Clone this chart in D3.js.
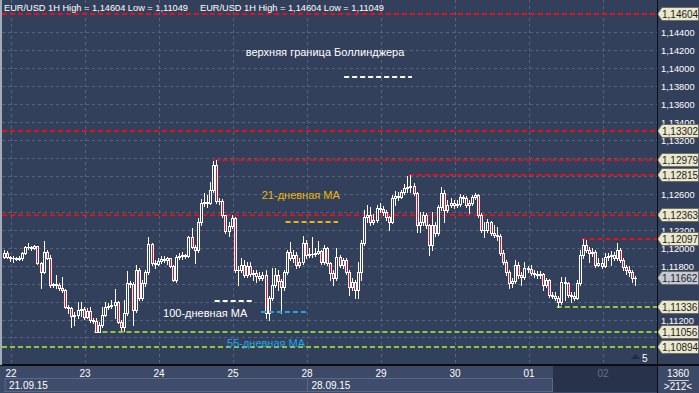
<!DOCTYPE html>
<html>
<head>
<meta charset="utf-8">
<script src="https://d3js.org/d3.v7.min.js"></script>
<style>
  body { margin: 0; background: #33405c; }
  svg { display: block; }
  text { font-family: "Liberation Sans", Arial, sans-serif; }
</style>
</head>
<body>
<script>
// EUR/USD hourly candles, 21.09.15 21:00 .. 02.10.15 10:00
// an hourly bar opens where the previous one closed
var firstOpen = 1.11900;

var close = [
  1.11944, 1.11900, 1.11889, 1.11889, 1.11877, 1.11889, 1.11944, 1.12011, 1.12011, 1.12000,
  1.12022, 1.11833, 1.11733, 1.11955, 1.11889, 1.11588, 1.11599, 1.11588, 1.11554, 1.11532,
  1.11343, 1.11332, 1.11242, 1.11254, 1.11309, 1.11320, 1.11231, 1.11298, 1.11198, 1.11187,
  1.11064, 1.11142, 1.11254, 1.11343, 1.11354, 1.11365, 1.11398, 1.11176, 1.11120, 1.11276,
  1.11610, 1.11599, 1.11309, 1.11755, 1.11443, 1.11610, 1.11733, 1.12045, 1.11833, 1.11822,
  1.11855, 1.11877, 1.11866, 1.11889, 1.11799, 1.11644, 1.11900, 1.11911, 1.11922, 1.11911,
  1.12123, 1.12011, 1.11978, 1.12290, 1.12501, 1.12512, 1.12501, 1.12646, 1.12925, 1.12524,
  1.12524, 1.12368, 1.12189, 1.12245, 1.12334, 1.11755, 1.11755, 1.11811, 1.11699, 1.11799,
  1.11710, 1.11722, 1.11688, 1.11666, 1.11699, 1.11276, 1.11443, 1.11588, 1.11699, 1.11632,
  1.11566, 1.11733, 1.11955, 1.11889, 1.11922, 1.11811, 1.11844, 1.12056, 1.11922, 1.11933,
  1.11933, 1.11944, 1.11967, 1.11844, 1.12000, 1.11833, 1.11722, 1.11666, 1.11900, 1.11811,
  1.11866, 1.11733, 1.11566, 1.11621, 1.11532, 1.11733, 1.12056, 1.12345, 1.12368, 1.12290,
  1.12312, 1.12446, 1.12434, 1.12401, 1.12345, 1.12290, 1.12557, 1.12579, 1.12568, 1.12624,
  1.12668, 1.12680, 1.12691, 1.12613, 1.12256, 1.12290, 1.12368, 1.12256, 1.12033, 1.12256,
  1.12167, 1.12457, 1.12613, 1.12423, 1.12479, 1.12501, 1.12479, 1.12490, 1.12568, 1.12557,
  1.12479, 1.12501, 1.12568, 1.12590, 1.12368, 1.12201, 1.12201, 1.12290, 1.12167, 1.12145,
  1.12134, 1.11944, 1.11844, 1.11733, 1.11610, 1.11632, 1.11811, 1.11699, 1.11677, 1.11777,
  1.11766, 1.11722, 1.11710, 1.11699, 1.11710, 1.11588, 1.11644, 1.11476, 1.11465, 1.11443,
  1.11398, 1.11621, 1.11610, 1.11476, 1.11465, 1.11443, 1.11610, 1.11922, 1.12033, 1.11978,
  1.11944, 1.11955, 1.11811, 1.11833, 1.11799, 1.11900, 1.11911, 1.11922, 1.11889, 1.11978,
  1.11866, 1.11788, 1.11755, 1.11733, 1.11666, 1.11662
];

var high = [
  1.11978, 1.11967, 1.11911, 1.11911, 1.11900, 1.11911, 1.11955, 1.12022, 1.12056, 1.12022,
  1.12033, 1.12022, 1.11844, 1.12078, 1.11978, 1.11922, 1.11610, 1.11699, 1.11610, 1.11677,
  1.11543, 1.11365, 1.11343, 1.11287, 1.11398, 1.11398, 1.11343, 1.11332, 1.11343, 1.11220,
  1.11220, 1.11176, 1.11343, 1.11398, 1.11387, 1.11421, 1.11543, 1.11410, 1.11198, 1.11421,
  1.11744, 1.11632, 1.11621, 1.11811, 1.11777, 1.11644, 1.11755, 1.12123, 1.12056, 1.11866,
  1.11889, 1.11911, 1.11911, 1.11900, 1.11889, 1.11811, 1.11922, 1.11944, 1.11955, 1.11933,
  1.12134, 1.12223, 1.12033, 1.12334, 1.12546, 1.12613, 1.12590, 1.12735, 1.12969, 1.12979,
  1.12557, 1.12546, 1.12368, 1.12290, 1.12368, 1.12345, 1.11799, 1.11889, 1.11866, 1.11844,
  1.11844, 1.11755, 1.11755, 1.11733, 1.11733, 1.11755, 1.11465, 1.11777, 1.11777, 1.11755,
  1.11655, 1.11755, 1.11978, 1.12067, 1.11978, 1.11955, 1.11889, 1.12134, 1.12089, 1.12000,
  1.12123, 1.12000, 1.12078, 1.11978, 1.12033, 1.12011, 1.11844, 1.11755, 1.12000, 1.11922,
  1.11889, 1.11889, 1.11755, 1.11666, 1.11644, 1.11844, 1.12089, 1.12423, 1.12479, 1.12457,
  1.12379, 1.12479, 1.12501, 1.12468, 1.12423, 1.12356, 1.12590, 1.12635, 1.12624, 1.12646,
  1.12713, 1.12802, 1.12815, 1.12724, 1.12624, 1.12401, 1.12401, 1.12390, 1.12267, 1.12401,
  1.12290, 1.12479, 1.12680, 1.12646, 1.12535, 1.12557, 1.12535, 1.12535, 1.12602, 1.12590,
  1.12579, 1.12535, 1.12590, 1.12613, 1.12602, 1.12390, 1.12290, 1.12323, 1.12301, 1.12256,
  1.12234, 1.12156, 1.11978, 1.11866, 1.11755, 1.11666, 1.11866, 1.11844, 1.11733, 1.11844,
  1.11799, 1.11811, 1.11755, 1.11744, 1.11744, 1.11722, 1.11666, 1.11655, 1.11510, 1.11510,
  1.11465, 1.11677, 1.11677, 1.11621, 1.11510, 1.11510, 1.11644, 1.11978, 1.12097, 1.12089,
  1.12011, 1.12000, 1.11978, 1.11889, 1.11889, 1.11944, 1.11944, 1.11967, 1.11955, 1.12056,
  1.12000, 1.11889, 1.11811, 1.11799, 1.11755, 1.11688
];

var low = [
  1.11889, 1.11889, 1.11855, 1.11844, 1.11866, 1.11866, 1.11866, 1.11933, 1.11989, 1.11978,
  1.11989, 1.11822, 1.11554, 1.11722, 1.11877, 1.11566, 1.11566, 1.11554, 1.11532, 1.11510,
  1.11332, 1.11276, 1.11120, 1.11142, 1.11220, 1.11242, 1.11209, 1.11220, 1.11176, 1.11164,
  1.11056, 1.11060, 1.11120, 1.11242, 1.11320, 1.11332, 1.11220, 1.11164, 1.11087, 1.11075,
  1.11254, 1.11566, 1.11142, 1.11287, 1.11421, 1.11421, 1.11577, 1.11710, 1.11811, 1.11777,
  1.11811, 1.11833, 1.11844, 1.11822, 1.11788, 1.11632, 1.11621, 1.11877, 1.11877, 1.11889,
  1.11900, 1.12000, 1.11833, 1.11955, 1.12256, 1.12468, 1.12457, 1.12490, 1.12624, 1.12501,
  1.12490, 1.12345, 1.12167, 1.12134, 1.12223, 1.11733, 1.11588, 1.11733, 1.11677, 1.11677,
  1.11688, 1.11644, 1.11621, 1.11644, 1.11644, 1.11220, 1.11198, 1.11421, 1.11566, 1.11532,
  1.11276, 1.11532, 1.11710, 1.11866, 1.11844, 1.11777, 1.11788, 1.11822, 1.11889, 1.11900,
  1.11900, 1.11911, 1.11933, 1.11822, 1.11822, 1.11811, 1.11644, 1.11588, 1.11644, 1.11788,
  1.11777, 1.11710, 1.11476, 1.11532, 1.11443, 1.11443, 1.11644, 1.12033, 1.12290, 1.12256,
  1.12267, 1.12290, 1.12401, 1.12368, 1.12312, 1.12201, 1.12279, 1.12479, 1.12535, 1.12557,
  1.12602, 1.12624, 1.12624, 1.12590, 1.12178, 1.12178, 1.12256, 1.12223, 1.11922, 1.11978,
  1.12134, 1.12145, 1.12423, 1.12290, 1.12401, 1.12457, 1.12446, 1.12457, 1.12468, 1.12512,
  1.12457, 1.12390, 1.12479, 1.12546, 1.12345, 1.12178, 1.12123, 1.12178, 1.12145, 1.12123,
  1.12089, 1.11922, 1.11822, 1.11699, 1.11554, 1.11566, 1.11610, 1.11666, 1.11588, 1.11655,
  1.11733, 1.11699, 1.11677, 1.11666, 1.11666, 1.11532, 1.11566, 1.11454, 1.11443, 1.11421,
  1.11336, 1.11376, 1.11421, 1.11454, 1.11398, 1.11421, 1.11432, 1.11588, 1.11889, 1.11955,
  1.11844, 1.11911, 1.11788, 1.11799, 1.11777, 1.11788, 1.11866, 1.11811, 1.11866, 1.11866,
  1.11844, 1.11755, 1.11710, 1.11688, 1.11621, 1.11588
];

// calendar: trading days and how many hourly bars of each are on screen
var dayLabels = ["21", "22", "23", "24", "25", "28", "29", "30", "01", "02"];
var dayBars = [3, 24, 24, 24, 24, 24, 24, 24, 24, 11];
var weekLabels = ["21.09.15", "28.09.15"];
var weekFirstDay = [0, 5];

var priceTicks = [1.110, 1.112, 1.114, 1.116, 1.118, 1.120, 1.122, 1.124, 1.126, 1.128,
                  1.130, 1.132, 1.134, 1.136, 1.138, 1.140, 1.142, 1.144];

// resistance (red) and support (green) levels, with the bar they start from
var redLevels = [1.14604, 1.13302, 1.12979, 1.12815, 1.12363, 1.12097];
var redFrom = [0, 0, 69, 132, 0, 188];
var greenLevels = [1.11336, 1.11056, 1.10894];
var greenFrom = [180, 30, 0];
var lastPrice = 1.11662;

// indicator marks: value and the bars they span
var maLabels = ["верхняя граница Боллинджера", "21-дневная МА", "100-дневная МА", "55-дневная МА"];
var maValues = [1.13905, 1.12290, 1.11410, 1.11287];
var maFrom = [111, 92, 69, 84];
var maTo = [132, 108, 80, 98];

var header = "EUR/USD 1H High = 1,14604 Low = 1,11049";
var barCount = "1360", barShown = ">212<";
</script>
<script>
var W = 699, H = 393,
    plotRight = 657, plotBottom = 365,
    bg = "#33405c", axisBg = "#3c4967", grid = "#56637f",
    red = "#e5101c", green = "#8dc63f";

var svg = d3.select("body").append("svg").attr("width", W).attr("height", H);
svg.append("rect").attr("width", W).attr("height", H).attr("fill", bg);

var open = [firstOpen].concat(close.slice(0, close.length - 1));
var bars = close.map(function (c, i) {
    return { i: i, o: open[i], h: high[i], l: low[i], c: c };
});

var x = d3.scaleBand().domain(d3.range(bars.length)).range([2, 637]);
var y = d3.scaleLinear().domain([1.10894, 1.14604]).range([347, 14]);
var cx = function (i) { return Math.round(x(i) + x.bandwidth() / 2) + 0.5; };
var py = function (v) { return Math.round(y(v)); };
var fmt = function (v) { return v.toFixed(5).replace(".", ","); };

// day starts (first visible bar of each day)
var dayStart = [], acc = 0;
dayBars.forEach(function (n) { dayStart.push(acc); acc += n; });

var plot = svg.append("g");

// grid
plot.selectAll("line.hgrid").data(priceTicks).enter().append("line")
    .attr("x1", 2).attr("x2", plotRight)
    .attr("y1", function (d) { return py(d) + 0.5; })
    .attr("y2", function (d) { return py(d) + 0.5; })
    .attr("stroke", grid).attr("stroke-dasharray", "3,3");

plot.selectAll("line.vgrid").data(dayStart.slice(1)).enter().append("line")
    .attr("x1", function (d) { return Math.round(x(d)) + 0.5; })
    .attr("x2", function (d) { return Math.round(x(d)) + 0.5; })
    .attr("y1", 0).attr("y2", plotBottom)
    .attr("stroke", grid).attr("stroke-dasharray", "3,3");

// header, shown twice as in the terminal
[4, 200].forEach(function (hx) {
    svg.append("text").attr("x", hx).attr("y", 11)
        .attr("fill", "#ffffff").attr("font-size", 9.8)
        .attr("textLength", 184).attr("lengthAdjust", "spacingAndGlyphs")
        .text(header);
});

// level lines
function levels(vals, from, color) {
    plot.selectAll(null).data(vals).enter().append("line")
        .attr("x1", function (d, k) { return x(from[k]); })
        .attr("x2", plotRight)
        .attr("y1", py).attr("y2", py)
        .attr("stroke", color).attr("stroke-width", 2)
        .attr("stroke-dasharray", "5,3");
}
levels(redLevels, redFrom, red);
levels(greenLevels, greenFrom, green);

// candles
var cg = plot.append("g");
cg.selectAll("line.wick").data(bars).enter().append("line")
    .attr("x1", function (d) { return cx(d.i); })
    .attr("x2", function (d) { return cx(d.i); })
    .attr("y1", function (d) { return py(d.h); })
    .attr("y2", function (d) { return py(d.l) + 1; })
    .attr("stroke", "#ffffff");

cg.selectAll("rect.body").data(bars).enter().append("rect")
    .attr("x", function (d) { return cx(d.i) - 1; })
    .attr("width", 2)
    .attr("y", function (d) { return py(Math.max(d.o, d.c)) + 0.5; })
    .attr("height", function (d) { return Math.max(0.01, py(Math.min(d.o, d.c)) - py(Math.max(d.o, d.c))); })
    .attr("fill", function (d) { return d.c < d.o ? "#ec0c22" : bg; })
    .attr("stroke", "#ffffff").attr("stroke-width", 1);

// indicator marks and their captions
var maColors = ["#ffffff", "#f2b600", "#ffffff", "#1ea4ea"];
var capShift = [[-53, -21], [-11, -23], [-28, 16], [-18, 35]];
maValues.forEach(function (v, k) {
    var x1 = x(maFrom[k]), x2 = x(maTo[k]) + x.bandwidth();
    plot.append("line")
        .attr("x1", x1).attr("x2", x2).attr("y1", py(v)).attr("y2", py(v))
        .attr("stroke", maColors[k]).attr("stroke-width", 2)
        .attr("stroke-dasharray", "5,3");
    plot.append("text")
        .attr("x", (x1 + x2) / 2 + capShift[k][0])
        .attr("y", py(v) + capShift[k][1])
        .attr("text-anchor", "middle")
        .attr("font-size", 11).attr("fill", maColors[k])
        .text(maLabels[k]);
});

// small "5" marker at the lower right of the plot
svg.append("path").attr("d", "M631,359L635.5,354L640,359Z").attr("fill", "#232a38");
svg.append("text").attr("x", 642).attr("y", 362).attr("fill", "#ffffff")
    .attr("font-size", 10).text("5");

// right price axis; labels that sit right under a price tag are covered there
var tagged = redLevels.concat(greenLevels, [lastPrice]);
var visibleTicks = priceTicks.filter(function (t) {
    return tagged.every(function (v) { return Math.abs(py(v) - py(t)) >= 7; });
});
svg.append("g").selectAll("text").data(visibleTicks).enter().append("text")
    .attr("x", 661).attr("y", function (d) { return py(d) + 3.5; })
    .attr("fill", "#ffffff").attr("font-size", 9.3)
    .text(fmt);

function tag(v, fill) {
    var t = py(v);
    svg.append("path")
        .attr("d", "M657.5," + t + "L662," + (t - 6.5) + "H698.5V" + (t + 6.5) + "H662Z")
        .attr("fill", fill).attr("stroke", "#6f6f66").attr("stroke-width", 1);
    svg.append("text").attr("x", 662).attr("y", t + 4)
        .attr("fill", "#1d1d1d").attr("font-size", 10).text(fmt(v));
}
redLevels.forEach(function (v) { tag(v, "#e9e7cc"); });
greenLevels.forEach(function (v) { tag(v, "#e9e7cc"); });
tag(lastPrice, "#c5c9d4");

// bottom time axis
svg.append("rect").attr("x", 0).attr("y", plotBottom).attr("width", W).attr("height", H - plotBottom)
    .attr("fill", axisBg);
svg.append("rect").attr("x", 553).attr("y", plotBottom + 1).attr("width", plotRight - 553).attr("height", 26)
    .attr("fill", "#28334b");

var weekEdges = weekFirstDay.map(function (d) { return x(dayStart[d]); });
weekLabels.forEach(function (lab, k) {
    var x0 = k === 0 ? 5 : Math.round(weekEdges[k]) + 0.5;
    var x1 = k + 1 < weekLabels.length ? Math.round(weekEdges[k + 1]) + 0.5 : 552.5;
    svg.append("rect").attr("x", x0).attr("y", 378.5).attr("width", x1 - x0).attr("height", 13)
        .attr("fill", "#3f4c6b").attr("stroke", "#5a6785");
    svg.append("text").attr("x", x0 + 4).attr("y", 389).attr("fill", "#ffffff")
        .attr("font-size", 10).text(lab);
});

svg.append("g").selectAll("text").data(dayStart.slice(1)).enter().append("text")
    .attr("x", function (d) { return Math.round(x(d)); })
    .attr("y", 377)
    .attr("text-anchor", "middle").attr("font-size", 10)
    .attr("fill", function (d) { return x(d) > 553 ? "#65728e" : "#ffffff"; })
    .text(function (d, k) { return dayLabels[k + 1]; });

// frame lines
svg.append("line").attr("x1", 0).attr("x2", W).attr("y1", plotBottom).attr("y2", plotBottom)
    .attr("stroke", "#0b0d14").attr("stroke-width", 2);
svg.append("line").attr("x1", plotRight + 0.5).attr("x2", plotRight + 0.5).attr("y1", 0).attr("y2", H)
    .attr("stroke", "#0b0d14");
svg.append("rect").attr("x", 0).attr("y", 0).attr("width", 2).attr("height", plotBottom)
    .attr("fill", "#a3abbb");

// bar counter
svg.append("text").attr("x", 678).attr("y", 377).attr("text-anchor", "middle")
    .attr("fill", "#ffffff").attr("font-size", 10).text(barCount);
svg.append("line").attr("x1", 668).attr("x2", 689).attr("y1", 380.5).attr("y2", 380.5)
    .attr("stroke", "#c8ccd6");
svg.append("text").attr("x", 678).attr("y", 390).attr("text-anchor", "middle")
    .attr("fill", "#ffffff").attr("font-size", 10).text(barShown);
</script>
</body>
</html>
